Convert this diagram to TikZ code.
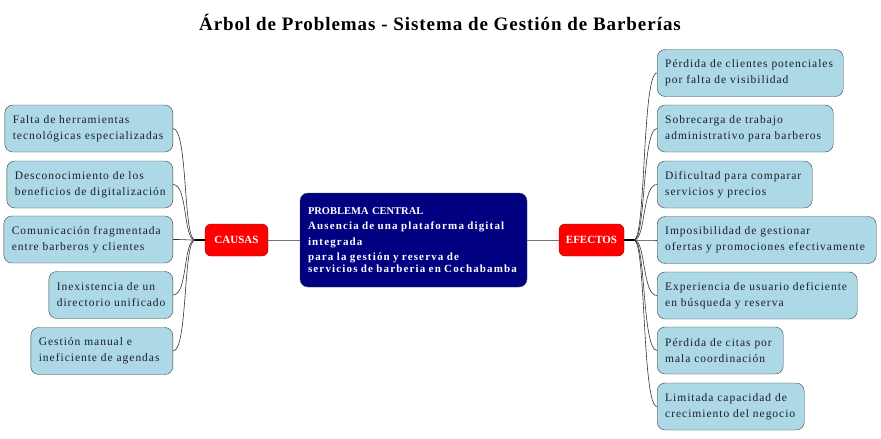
\documentclass[tikz,border=0pt]{standalone}
\usepackage{fontspec}
\usepackage{xcolor}
\setmainfont{Liberation Serif}
\newfontfamily\boxfont[LetterSpace=8.5]{Liberation Serif}
\newfontfamily\corefont[LetterSpace=10.5]{Liberation Serif}
\newfontfamily\titlefont[LetterSpace=5]{Liberation Serif}

\definecolor{boxblue}{HTML}{ADD8E6}
\definecolor{boxtext}{HTML}{17202A}
\definecolor{navyc}{HTML}{000080}
\definecolor{redc}{HTML}{FF0000}

\begin{document}
\begin{tikzpicture}
  [x=1pt,y=-1pt,
   leaf/.style={rectangle,rounded corners=8pt,draw=black!75,fill=boxblue,text=boxtext,
     align=left,inner xsep=8pt,inner ysep=0pt,minimum height=47pt,text width=#1,
     font=\boxfont\fontsize{11.5}{16}\selectfont},
   hub/.style={rectangle,rounded corners=6pt,draw=red!60!black,fill=redc,text=white,
     inner sep=0pt,minimum height=32pt,font=\bfseries\fontsize{11}{12}\selectfont},
   link/.style={draw=black!80,line width=0.6pt}]
  \useasboundingbox (0,0) rectangle (881,439);

  \node (title) at (440,22) {\titlefont\bfseries\fontsize{19}{22}\selectfont
    Árbol de Problemas - Sistema de Gestión de Barberías};

  % centro
  \node[rectangle,rounded corners=8pt,draw=black!70,fill=navyc,text=white,align=left,
    inner xsep=8pt,text width=211pt,minimum height=94pt]
    (core) at (413.5,240) {{\bfseries\fontsize{10.5}{15.5}\selectfont PROBLEMA CENTRAL}\\
    \corefont\bfseries\fontsize{11}{15.5}\selectfont
    Ausencia de una plataforma digital\\integrada\\para la gestión y reserva de\\
    servicios de barberia en Cochabamba};

  \node[hub,minimum width=63pt] (causas) at (236.5,240) {CAUSAS};
  \node[hub,minimum width=65pt] (efectos) at (591.5,240) {EFECTOS};

  % causas
  \node[leaf=152pt,anchor=east] (c1) at (173,128.5) {Falta de herramientas\\tecnológicas especializadas};
  \node[leaf=150pt,anchor=east] (c2) at (173,184.5) {Desconocimiento de los\\beneficios de digitalización};
  \node[leaf=153pt,anchor=east] (c3) at (173,239.5) {Comunicación fragmentada\\entre barberos y clientes};
  \node[leaf=108pt,anchor=east] (c4) at (173,295) {Inexistencia de un\\directorio unificado};
  \node[leaf=126pt,anchor=east] (c5) at (173,351) {Gestión manual e\\ineficiente de agendas};

  % efectos
  \node[leaf=170pt,anchor=west] (e1) at (657,73) {Pérdida de clientes potenciales\\por falta de visibilidad};
  \node[leaf=160pt,anchor=west] (e2) at (657,128.5) {Sobrecarga de trabajo\\administrativo para barberos};
  \node[leaf=139pt,anchor=west] (e3) at (657,184.5) {Dificultad para comparar\\servicios y precios};
  \node[leaf=203pt,anchor=west] (e4) at (657,240) {Imposibilidad de gestionar\\ofertas y promociones efectivamente};
  \node[leaf=184pt,anchor=west] (e5) at (657,295.5) {Experiencia de usuario deficiente\\en búsqueda y reserva};
  \node[leaf=110pt,anchor=west] (e6) at (657,350.5) {Pérdida de citas por\\mala coordinación};
  \node[leaf=131pt,anchor=west] (e7) at (657,406.5) {Limitada capacidad de\\crecimiento del negocio};

  \coordinate (jl) at (195,240);
  \coordinate (jr) at (634,240);

  \foreach \n in {c1,c2,c3,c4,c5}
    \draw[link] (\n.east) .. controls +(15,0) and +(-12,0) .. (jl);
  \foreach \n in {e1,e2,e3,e4,e5,e6,e7}
    \draw[link] (jr) .. controls +(12,0) and +(-15,0) .. (\n.west);

  \draw[line width=1.6pt] (jl) -- (causas.west);
  \draw[line width=1.6pt] (efectos.east) -- (jr);
  \draw[draw=black!55,line width=0.8pt] (causas.east) -- (core.west);
  \draw[draw=black!55,line width=0.8pt] (core.east) -- (efectos.west);
\end{tikzpicture}
\end{document}
